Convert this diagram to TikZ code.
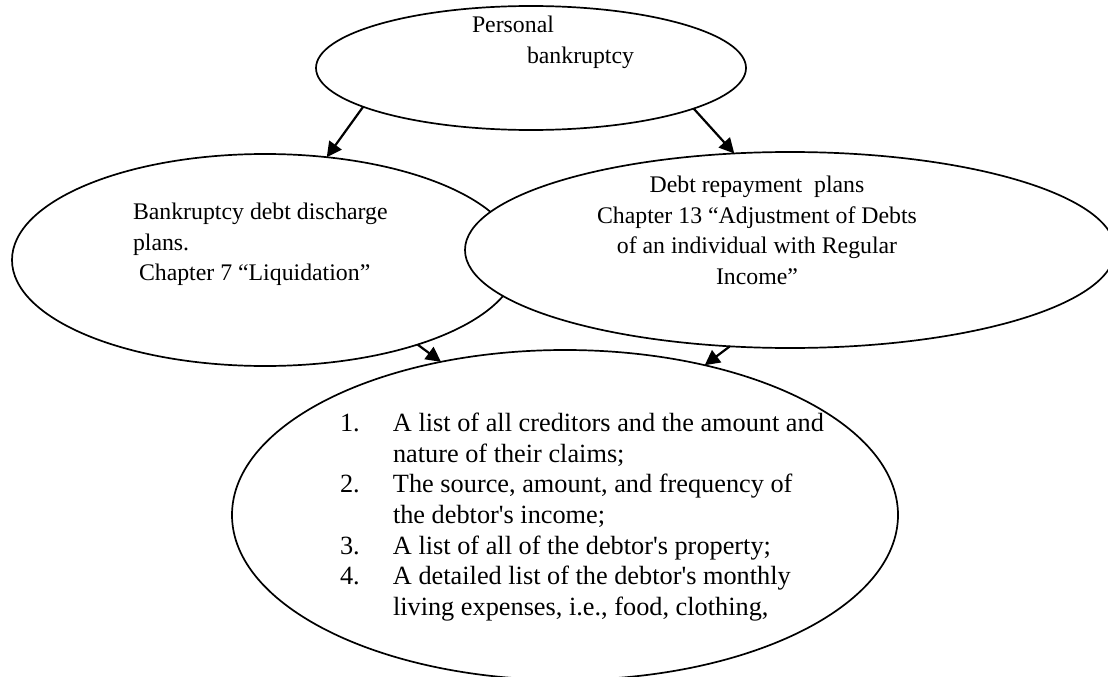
\documentclass[tikz,border=0pt]{standalone}
\usepackage{fontspec}
\setmainfont{Liberation Serif}[Ligatures=TeXOff]
\usetikzlibrary{shapes.geometric,arrows.meta}
\tikzset{
  ell/.style={ellipse, draw=black, fill=white, line width=1.7pt, inner sep=0pt, outer sep=0pt},
  txt/.style={inner sep=0pt, outer sep=0pt, font=\fontsize{23.8}{30.5}\selectfont},
  listtxt/.style={inner sep=0pt, outer sep=0pt, font=\fontsize{26.3}{30.7}\selectfont},
  arr/.style={line width=2.2pt, -{Triangle[length=15pt,width=15pt]}}
}
\begin{document}
\begin{tikzpicture}[x=1pt,y=-1pt]
\useasboundingbox (0,0) rectangle (1108,677);
\clip (0,0) rectangle (1108,677);
% ellipses
\node[ell, minimum width=430pt, minimum height=124pt] (T) at (531,68) {};
\node[ell, minimum width=506pt, minimum height=212pt] (L) at (265,260) {};
\node[ell, minimum width=650pt, minimum height=196pt] (R) at (790,250) {};
\node[ell, minimum width=666pt, minimum height=330pt] (B) at (565,515) {};
% texts
\node[txt, anchor=north west, align=left] (Tt) at (472,16) {Personal\\\hspace{55pt}bankruptcy};
\node[txt, anchor=north west, align=left] (Lt) at (133,203) {Bankruptcy debt discharge\\plans.\\\hspace{6pt}Chapter 7 “Liquidation”};
\node[txt, anchor=north, align=center] (Rt) at (757,176) {Debt repayment\ \ plans\\Chapter 13 “Adjustment of Debts\\of an individual with Regular\\Income”};
\node[listtxt, anchor=north west] (Bt) at (340,410) {%
\begin{tabular}{@{}p{53pt}@{}l@{}}
1. & A list of all creditors and the amount and\\
   & nature of their claims;\\
2. & The source, amount, and frequency of\\
   & the debtor's income;\\
3. & A list of all of the debtor's property;\\
4. & A detailed list of the debtor's monthly\\
   & living expenses, i.e., food, clothing,
\end{tabular}};
% arrows
\draw[arr] (T.193) -- (L.59.5);
\draw[arr] (T.346) -- (R.120.7);
\draw[arr] (L.-29.4) -- (B.129.8);
\draw[arr] (R.238) -- (B.47.1);
\end{tikzpicture}
\end{document}
